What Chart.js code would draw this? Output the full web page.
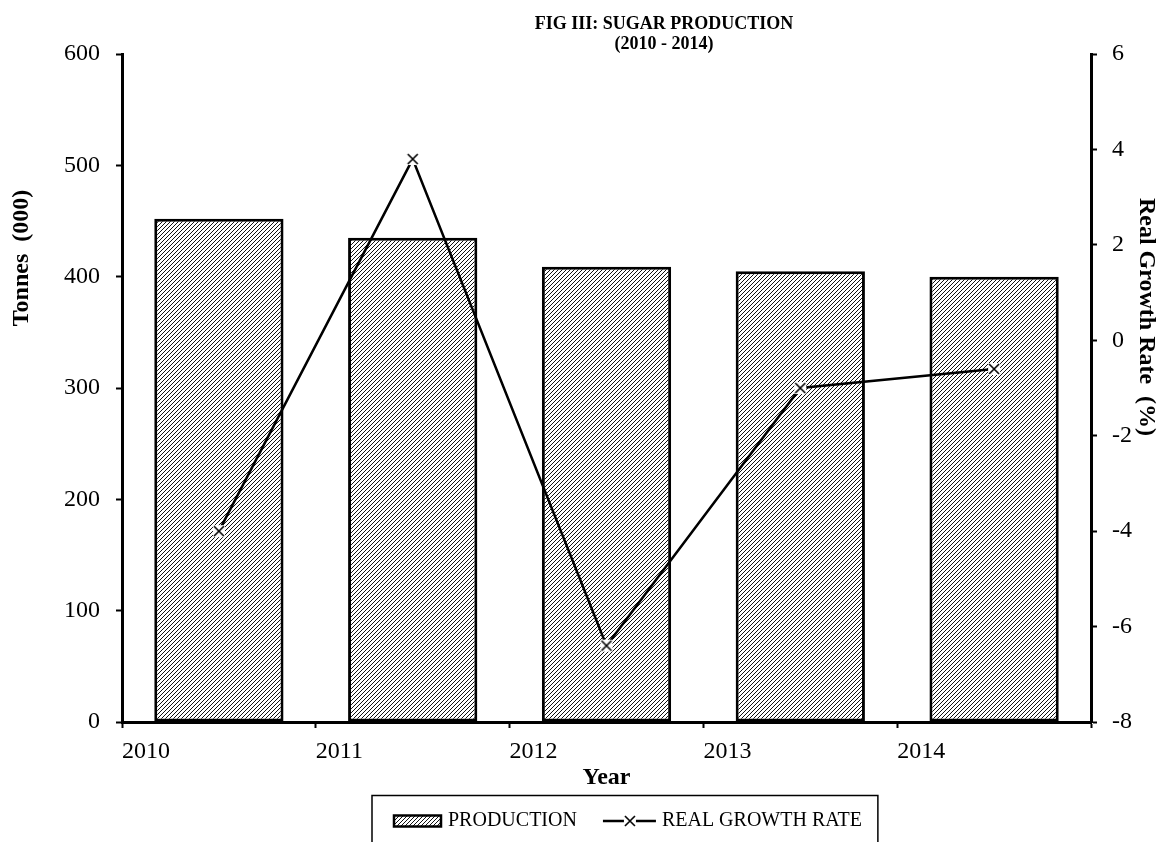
<!DOCTYPE html>
<html><head><meta charset="utf-8">
<script src="https://cdn.jsdelivr.net/npm/chart.js@4.4.1/dist/chart.umd.min.js"></script>
<style>html,body{margin:0;padding:0;background:#fff}canvas{display:block}</style>
</head><body>
<canvas id="c" width="1163" height="842"></canvas>
<script>
// ---- data ----
const years = ['2010', '2011', '2012', '2013', '2014'];
const production = [452, 435, 409, 405, 400];          // Tonnes (000)
const growthRate = [-4.0, 3.8, -6.4, -1.0, -0.6];       // Real Growth Rate (%)
const titleLines = ['FIG III: SUGAR PRODUCTION', '(2010 - 2014)'];
const leftTitle = 'Tonnes  (000)';
const rightTitle = 'Real Growth Rate  (%)';
const xTitle = 'Year';
const seriesNames = ['PRODUCTION', 'REAL GROWTH RATE'];

const SERIF = "'Liberation Serif', 'Times New Roman', serif";
const ICON_W = 59;          // legend box width (Chart.js pointStyleWidth)
const ICON_C = ICON_W + 10; // icon canvas width (extends 5px each side)

function hatchPattern(ctx) {
  const c = document.createElement('canvas');
  c.width = 4; c.height = 4;
  const g = c.getContext('2d');
  g.fillStyle = '#fff'; g.fillRect(0, 0, 4, 4);
  g.strokeStyle = '#111'; g.lineWidth = 1.0;
  g.beginPath();
  g.moveTo(-1, 5); g.lineTo(5, -1);
  g.moveTo(-1, 1); g.lineTo(1, -1);
  g.moveTo(3, 5); g.lineTo(5, 3);
  g.stroke();
  return ctx.createPattern(c, 'repeat');
}

function drawMarker(g, cx, cy) {
  g.fillStyle = '#fff';
  g.fillRect(cx - 6, cy - 6, 12, 12);
  g.strokeStyle = '#000'; g.lineWidth = 1.6;
  g.beginPath();
  g.moveTo(cx - 5, cy - 5); g.lineTo(cx + 5, cy + 5);
  g.moveTo(cx + 5, cy - 5); g.lineTo(cx - 5, cy + 5);
  g.stroke();
}
function markerIcon() {
  const c = document.createElement('canvas');
  c.width = 14; c.height = 14;
  drawMarker(c.getContext('2d'), 7, 7);
  return c;
}
function patchIcon() {
  const c = document.createElement('canvas');
  c.width = ICON_C; c.height = 16;
  const g = c.getContext('2d');
  g.fillStyle = hatchPattern(g);
  g.fillRect(ICON_C - 49, 2.5, 47, 11);
  g.strokeStyle = '#000'; g.lineWidth = 2.5;
  g.strokeRect(ICON_C - 49, 2.5, 47, 11);
  return c;
}
function lineIcon() {
  const c = document.createElement('canvas');
  c.width = ICON_C; c.height = 16;
  const g = c.getContext('2d');
  g.strokeStyle = '#000'; g.lineWidth = 2.5;
  g.beginPath(); g.moveTo(ICON_C - 54, 8); g.lineTo(ICON_C - 1, 8); g.stroke();
  drawMarker(g, ICON_C - 27, 8);
  return c;
}

const ctx = document.getElementById('c').getContext('2d');
const hatch = hatchPattern(ctx);
const icons = [patchIcon(), lineIcon()];
const marker = markerIcon();

// place title / legend blocks where the reference has them
const placeBlocks = {
  id: 'placeBlocks',
  afterLayout(chart) {
    const t = chart.titleBlock;
    if (t) {
      const shift = 664 - (t.left + t.right) / 2;
      t.left += shift; t.right += shift;
    }
    const lg = chart.legend;
    if (lg && lg.lineWidths) {
      const pad = lg.options.labels.padding;
      const cx = (lg.left + pad + lg.right - lg.lineWidths[0]) / 2;
      const shift = 379 - cx;
      lg.left += shift; lg.right += shift;
    }
  }
};

const extras = {
  id: 'extras',
  afterDraw(chart) {
    const c = chart.ctx;
    // legend frame
    const lg = chart.legend;
    if (lg && lg.legendHitBoxes && lg.legendHitBoxes.length) {
      const hb = lg.legendHitBoxes;
      const left = hb[0].left - 7;
      const last = hb[hb.length - 1];
      const right = last.left + last.width + 16;
      c.save();
      c.strokeStyle = '#000'; c.lineWidth = 1.5;
      c.strokeRect(left, 795.5, right - left, 80);
      c.restore();
    }
    // axis titles
    c.save();
    c.fillStyle = '#000';
    c.font = "bold 24px " + SERIF;
    c.textAlign = 'center'; c.textBaseline = 'middle';
    c.save(); c.translate(22, 258); c.rotate(-Math.PI / 2); c.fillText(leftTitle, 0, 0); c.restore();
    c.save(); c.translate(1146, 317); c.rotate(Math.PI / 2); c.fillText(rightTitle, 0, 0); c.restore();
    c.restore();
  }
};

new Chart(ctx, {
  data: {
    labels: years,
    datasets: [
      {
        type: 'line',
        label: seriesNames[1],
        data: growthRate,
        yAxisID: 'y1',
        xAxisID: 'x',
        borderColor: '#000',
        borderWidth: 2.5,
        pointStyle: marker,
        pointRadius: 7,
        tension: 0,
        order: 1
      },
      {
        type: 'bar',
        label: seriesNames[0],
        data: production,
        yAxisID: 'y',
        xAxisID: 'x',
        backgroundColor: hatch,
        borderColor: '#000',
        borderWidth: 3,
        borderSkipped: false,
        categoryPercentage: 1,
        barPercentage: 0.667,
        order: 2
      }
    ]
  },
  options: {
    responsive: false,
    animation: false,
    devicePixelRatio: 1,
    layout: { padding: { top: 0, bottom: 1, left: 0, right: 0 } },
    plugins: {
      title: {
        display: true,
        text: titleLines,
        color: '#000',
        font: { family: SERIF, size: 18, weight: 'bold', lineHeight: 1.1 },
        padding: { top: 14.5, bottom: 0 }
      },
      legend: {
        display: true,
        position: 'bottom',
        labels: {
          color: '#000',
          font: { family: SERIF, size: 20 },
          usePointStyle: true,
          pointStyleWidth: ICON_W,
          boxHeight: 20,
          padding: 16,
          generateLabels() {
            return [
              { text: seriesNames[0], pointStyle: icons[0], fillStyle: 'transparent', strokeStyle: 'transparent', lineWidth: 0, datasetIndex: 1 },
              { text: seriesNames[1], pointStyle: icons[1], fillStyle: 'transparent', strokeStyle: 'transparent', lineWidth: 0, datasetIndex: 0 }
            ];
          }
        }
      },
      tooltip: { enabled: false }
    },
    scales: {
      x: {
        type: 'category',
        display: false,
        offset: true
      },
      x2: {
        type: 'linear',
        position: 'bottom',
        min: 0,
        max: 5,
        afterFit(s) { s.height = 73; },
        border: { display: true, color: '#000', width: 3 },
        grid: { display: true, drawOnChartArea: false, drawTicks: true, tickLength: 6, tickWidth: 2, tickColor: '#000' },
        ticks: {
          stepSize: 1,
          align: 'start',
          padding: 9,
          color: '#000',
          font: { family: SERIF, size: 24 },
          maxRotation: 0,
          autoSkip: false,
          callback: (v) => (years[v] !== undefined ? years[v] : '')
        },
        title: {
          display: true,
          text: xTitle,
          color: '#000',
          font: { family: SERIF, size: 24, weight: 'bold' },
          padding: { top: 0, bottom: 3 }
        }
      },
      y: {
        type: 'linear',
        position: 'left',
        min: 0,
        max: 600,
        afterFit(s) { s.width = 122; },
        border: { display: true, color: '#000', width: 3 },
        grid: { display: true, drawOnChartArea: false, drawTicks: true, tickLength: 6, tickWidth: 2, tickColor: '#000' },
        ticks: { stepSize: 100, padding: 16, color: '#000', font: { family: SERIF, size: 24 } }
      },
      y1: {
        type: 'linear',
        position: 'right',
        min: -8,
        max: 6,
        afterFit(s) { s.width = 72; },
        border: { display: true, color: '#000', width: 3 },
        grid: { display: true, drawOnChartArea: false, drawTicks: true, tickLength: 6, tickWidth: 2, tickColor: '#000' },
        ticks: { stepSize: 2, padding: 15, color: '#000', font: { family: SERIF, size: 24 } }
      }
    }
  },
  plugins: [placeBlocks, extras]
});
</script>
</body></html>
